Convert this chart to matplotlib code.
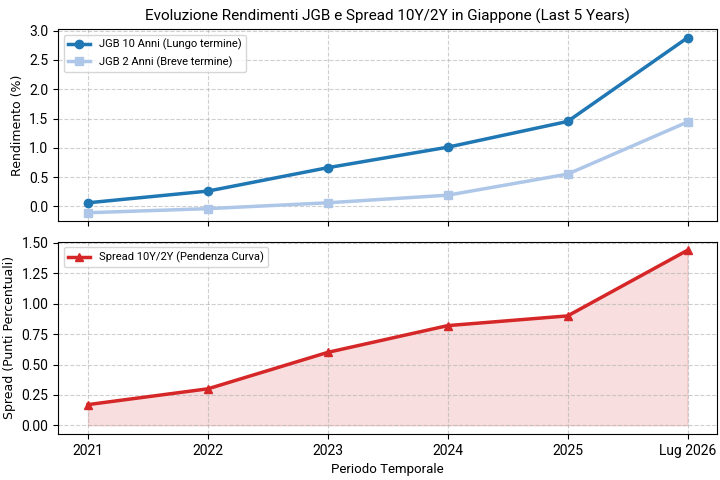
import matplotlib
matplotlib.use("Agg")
import matplotlib.pyplot as plt

periods = ["2021", "2022", "2023", "2024", "2025", "Lug 2026"]
jgb10 = [0.06, 0.26, 0.66, 1.01, 1.45, 2.88]
jgb2 = [-0.11, -0.04, 0.06, 0.19, 0.55, 1.44]
spread = [0.17, 0.30, 0.60, 0.82, 0.90, 1.44]

plt.rcParams['font.family'] = ['Roboto', 'DejaVu Sans']

fig, (ax1, ax2) = plt.subplots(2, 1, figsize=(7.2, 4.8), dpi=100, sharex=True)
fig.subplots_adjust(left=0.0806, right=0.9965, top=0.9396, bottom=0.0958, hspace=0.104)

x = list(range(len(periods)))
ax1.plot(x, jgb10, marker='o', color='#1f77b4', lw=2.5, ms=6, label='JGB 10 Anni (Lungo termine)')
ax1.plot(x, jgb2, marker='s', color='#aec7e8', lw=2.5, ms=6, label='JGB 2 Anni (Breve termine)')
ax1.set_ylabel('Rendimento (%)', fontsize=9, family='DejaVu Sans')
ax1.set_title('Evoluzione Rendimenti JGB e Spread 10Y/2Y in Giappone (Last 5 Years)', fontsize=11)
ax1.grid(True, linestyle='--', alpha=0.6)
ax1.legend(loc='upper left', fontsize=8)
ax1.set_yticks([0.0, 0.5, 1.0, 1.5, 2.0, 2.5, 3.0])

ax2.plot(x, spread, marker='^', color='#d62728', lw=2.5, ms=6, label='Spread 10Y/2Y (Pendenza Curva)')
ax2.fill_between(x, spread, 0, color='#d62728', alpha=0.15)
ax2.set_ylabel('Spread (Punti Percentuali)', fontsize=9, family='DejaVu Sans')
ax2.set_xlabel('Periodo Temporale', fontsize=9.5)
ax2.grid(True, linestyle='--', alpha=0.6)
ax2.legend(loc='upper left', fontsize=8)
ax2.set_yticks([0.0, 0.25, 0.5, 0.75, 1.0, 1.25, 1.5])
ax2.set_xticks(x)
ax2.set_xticklabels(periods, fontsize=10)
for ax in (ax1, ax2):
    ax.tick_params(axis='y', labelsize=10)

fig.savefig('out.png', dpi=100)
